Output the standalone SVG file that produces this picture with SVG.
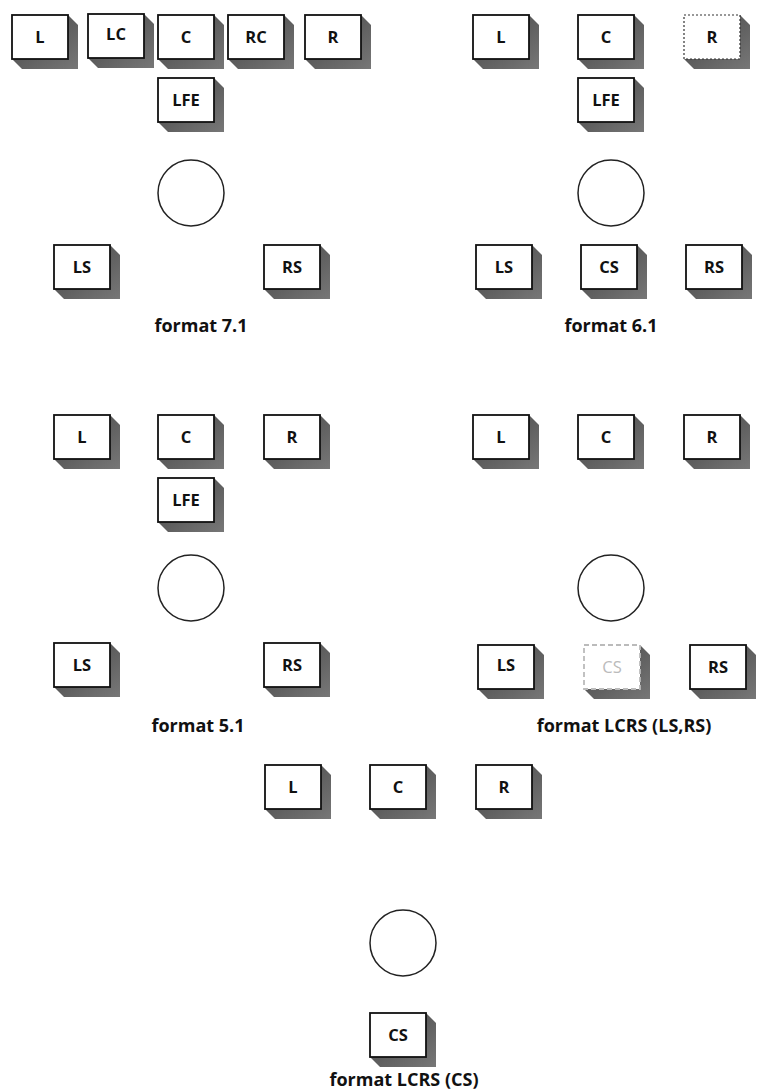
<svg xmlns="http://www.w3.org/2000/svg" xmlns:xlink="http://www.w3.org/1999/xlink" width="762" height="1090" viewBox="0 0 762 1090">
<style>
.t{font-family:"Open Sans","Liberation Sans",sans-serif;font-weight:bold;font-size:16.5px;text-anchor:middle;fill:#111}
.lab{font-family:"Open Sans","Liberation Sans",sans-serif;font-weight:bold;font-size:18px;text-anchor:middle;fill:#111}
.c{fill:#fff;stroke:#222;stroke-width:1.5}
</style>
<defs>
<linearGradient id="sh" x1="0" y1="0" x2="1" y2="1"><stop offset="0" stop-color="#444"/><stop offset="1" stop-color="#777"/></linearGradient>
<g id="box"><polygon points="56,0 66,10 66,54 10,54 0,44" fill="url(#sh)"/><rect width="56" height="44" fill="#fff" stroke="#111" stroke-width="1.8"/></g>
<g id="dotbox"><polygon points="56,0 66,10 66,54 10,54 0,44" fill="url(#sh)"/><rect width="56" height="44" fill="#fff" stroke="#333" stroke-width="1.2" stroke-dasharray="2,2"/></g>
<g id="dashbox"><polygon points="56,0 66,10 66,54 10,54 0,44" fill="url(#sh)"/><rect width="56" height="44" fill="#fff" stroke="#bbb" stroke-width="1.8" stroke-dasharray="5,3"/></g>
</defs>
<g id="connectors"/>
<g id="f71">
<g id="f71-L"><use xlink:href="#box" x="12" y="15"/><text class="t" x="40" y="43">L</text></g>
<g id="f71-LC"><use xlink:href="#box" x="88" y="14"/><text class="t" x="116" y="40">LC</text></g>
<g id="f71-C"><use xlink:href="#box" x="158" y="15"/><text class="t" x="186" y="43">C</text></g>
<g id="f71-RC"><use xlink:href="#box" x="228" y="15"/><text class="t" x="256" y="43">RC</text></g>
<g id="f71-R"><use xlink:href="#box" x="305" y="15"/><text class="t" x="333" y="43">R</text></g>
<g id="f71-LFE"><use xlink:href="#box" x="158" y="78"/><text class="t" x="186" y="106">LFE</text></g>
<circle class="c" cx="191" cy="193" r="33"/>
<g id="f71-LS"><use xlink:href="#box" x="54" y="245"/><text class="t" x="82" y="273">LS</text></g>
<g id="f71-RS"><use xlink:href="#box" x="264" y="245"/><text class="t" x="292" y="273">RS</text></g>
<text class="lab" x="201" y="332">format 7.1</text>
</g>
<g id="f61">
<g id="f61-L"><use xlink:href="#box" x="473" y="15"/><text class="t" x="501" y="43">L</text></g>
<g id="f61-C"><use xlink:href="#box" x="578" y="15"/><text class="t" x="606" y="43">C</text></g>
<g id="f61-R"><use xlink:href="#dotbox" x="684" y="15"/><text class="t" x="712" y="43">R</text></g>
<g id="f61-LFE"><use xlink:href="#box" x="578" y="78"/><text class="t" x="606" y="106">LFE</text></g>
<circle class="c" cx="611" cy="193" r="33"/>
<g id="f61-LS"><use xlink:href="#box" x="476" y="245"/><text class="t" x="504" y="273">LS</text></g>
<g id="f61-CS"><use xlink:href="#box" x="581" y="245"/><text class="t" x="609" y="273">CS</text></g>
<g id="f61-RS"><use xlink:href="#box" x="686" y="245"/><text class="t" x="714" y="273">RS</text></g>
<text class="lab" x="611" y="332">format 6.1</text>
</g>
<g id="f51">
<g id="f51-L"><use xlink:href="#box" x="54" y="415"/><text class="t" x="82" y="443">L</text></g>
<g id="f51-C"><use xlink:href="#box" x="158" y="415"/><text class="t" x="186" y="443">C</text></g>
<g id="f51-R"><use xlink:href="#box" x="264" y="415"/><text class="t" x="292" y="443">R</text></g>
<g id="f51-LFE"><use xlink:href="#box" x="158" y="478"/><text class="t" x="186" y="506">LFE</text></g>
<circle class="c" cx="191" cy="588" r="33"/>
<g id="f51-LS"><use xlink:href="#box" x="54" y="643"/><text class="t" x="82" y="671">LS</text></g>
<g id="f51-RS"><use xlink:href="#box" x="264" y="643"/><text class="t" x="292" y="671">RS</text></g>
<text class="lab" x="198" y="732">format 5.1</text>
</g>
<g id="flcrs1">
<g id="lc1-L"><use xlink:href="#box" x="473" y="415"/><text class="t" x="501" y="443">L</text></g>
<g id="lc1-C"><use xlink:href="#box" x="578" y="415"/><text class="t" x="606" y="443">C</text></g>
<g id="lc1-R"><use xlink:href="#box" x="684" y="415"/><text class="t" x="712" y="443">R</text></g>
<circle class="c" cx="611" cy="588" r="33"/>
<g id="lc1-LS"><use xlink:href="#box" x="478" y="645"/><text class="t" x="506" y="671">LS</text></g>
<g id="lc1-CS"><use xlink:href="#dashbox" x="584" y="645"/><text class="t" x="612" y="673" style="fill:#bbb;font-weight:normal">CS</text></g>
<g id="lc1-RS"><use xlink:href="#box" x="690" y="645"/><text class="t" x="718" y="673">RS</text></g>
<text class="lab" x="624" y="732">format LCRS (LS,RS)</text>
</g>
<g id="flcrs2">
<g id="lc2-L"><use xlink:href="#box" x="265" y="765"/><text class="t" x="293" y="793">L</text></g>
<g id="lc2-C"><use xlink:href="#box" x="370" y="765"/><text class="t" x="398" y="793">C</text></g>
<g id="lc2-R"><use xlink:href="#box" x="476" y="765"/><text class="t" x="504" y="793">R</text></g>
<circle class="c" cx="403" cy="943" r="33"/>
<g id="lc2-CS"><use xlink:href="#box" x="370" y="1013"/><text class="t" x="398" y="1041">CS</text></g>
<text class="lab" x="404" y="1086">format LCRS (CS)</text>
</g>
</svg>
